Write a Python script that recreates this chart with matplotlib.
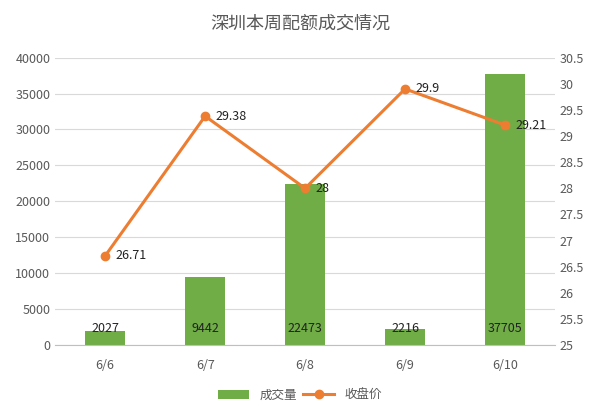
import matplotlib
matplotlib.use("Agg")
import matplotlib.pyplot as plt
from matplotlib import font_manager

names = {f.name for f in font_manager.fontManager.ttflist}
cjk = [n for n in ["Noto Sans CJK SC", "Noto Sans CJK JP", "Noto Sans CJK TC", "Noto Sans CJK KR"] if n in names]
plt.rcParams['font.family'] = 'sans-serif'
plt.rcParams['font.sans-serif'] = cjk + ['DejaVu Sans']

categories = ["6/6", "6/7", "6/8", "6/9", "6/10"]
volume = [2027, 9442, 22473, 2216, 37705]
price = [26.71, 29.38, 28, 29.9, 29.21]
price_labels = ["26.71", "29.38", "28", "29.9", "29.21"]

fig = plt.figure(figsize=(6, 4.17), dpi=100)
ax = fig.add_axes([0.092, 0.172, 0.833, 0.69])
ax2 = ax.twinx()
x = list(range(len(categories)))
green = "#70AD47"; orange = "#ED7D31"; tc = "#595959"
ax.bar(x, volume, width=0.4, color=green, zorder=2, label="成交量")
for xi, v in zip(x, volume):
    ax.text(xi, 2300, str(v), ha='center', va='center', fontsize=9, color='#222222', zorder=5)
ax.set_ylim(0, 40000)
ax.set_yticks(range(0, 40001, 5000))
ax.set_xlim(-0.5, 4.5)
ax.set_xticks(x)
ax.set_xticklabels(categories)
ax.grid(axis='y', color='#D9D9D9', lw=0.8, zorder=0)
ax2.plot(x, price, color=orange, lw=2.2, marker='o', ms=6, label="收盘价", zorder=3)
for xi, p, s in zip(x, price, price_labels):
    ax2.text(xi + 0.1, p, s, ha='left', va='center', fontsize=9, color='#222222')
ax2.set_ylim(25, 30.5)
ax2.set_yticks([25 + 0.5 * i for i in range(12)])
ax2.set_yticklabels([f"{25 + 0.5 * i:g}" for i in range(12)])
for a in (ax, ax2):
    for s in a.spines.values():
        s.set_visible(False)
    a.tick_params(length=0, colors=tc, labelsize=9)
ax.spines['bottom'].set_visible(True)
ax.spines['bottom'].set_color('#BFBFBF')
ax.tick_params(axis='x', pad=10)
fig.suptitle("深圳本周配额成交情况", y=0.965, fontsize=13, color=tc)
h1, l1 = ax.get_legend_handles_labels()
h2, l2 = ax2.get_legend_handles_labels()
fig.legend(h1 + h2, l1 + l2, loc='lower center', ncol=2, frameon=False, bbox_to_anchor=(0.5, 0.01),
           fontsize=9, labelcolor=tc, handlelength=2.5, columnspacing=0.5)
fig.savefig("out.png")
